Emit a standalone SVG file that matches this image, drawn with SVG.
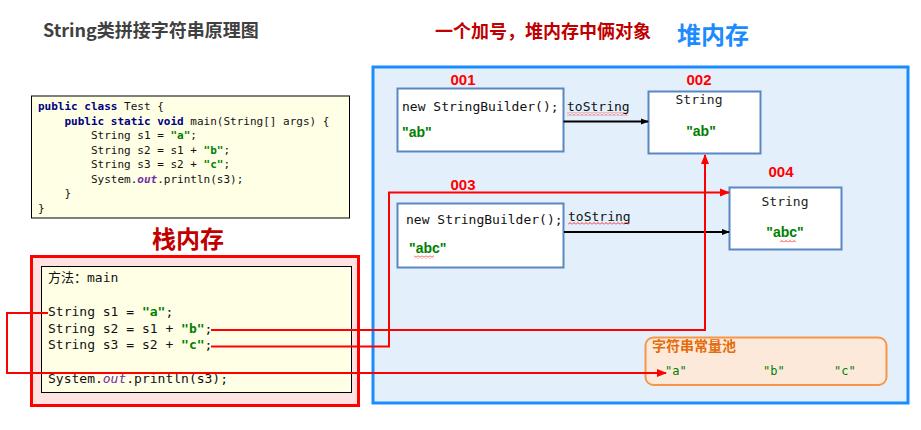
<svg xmlns="http://www.w3.org/2000/svg" width="921" height="430" viewBox="0 0 921 430">
<style>
.mono{font-family:"DejaVu Sans Mono","Noto Sans CJK SC",monospace;}
.code{font-size:11px;fill:#111;}
.stk{font-size:13px;fill:#111;}
.kw{fill:#000080;font-weight:bold;}
.str{fill:#008000;font-weight:bold;}
.out{fill:#7030A0;font-style:italic;font-weight:bold;}
.cjk{font-family:"Noto Sans CJK SC","Liberation Sans",sans-serif;font-weight:bold;}
.lbl{font-family:"Liberation Sans",Arial,sans-serif;font-weight:bold;font-size:15px;fill:#FF0000;text-anchor:middle;}
.obj{fill:#FFFFFF;stroke:#5A87C2;stroke-width:2;}
.val{font-family:"Liberation Sans",Arial,sans-serif;font-weight:bold;font-size:14px;fill:#008000;}
.red{fill:none;stroke:#FF0000;stroke-width:2;}
.blk{fill:none;stroke:#000;stroke-width:2;}
</style>
<defs>
<marker id="ab" markerWidth="8" markerHeight="8" refX="7" refY="4" orient="auto" markerUnits="userSpaceOnUse">
<path d="M0,1 L8,4 L0,7 Z" fill="#000"/>
</marker>
<marker id="ar" markerWidth="10" markerHeight="10" refX="9" refY="5" orient="auto" markerUnits="userSpaceOnUse">
<path d="M0,1 L10,5 L0,9 Z" fill="#FF0000"/>
</marker>
<pattern id="wavy" x="0" y="0" width="4" height="3" patternUnits="userSpaceOnUse">
<path d="M0,2.5 L2,0.5 L4,2.5" fill="none" stroke="#FF0000" stroke-width="0.8"/>
</pattern>
</defs>

<g id="titles">
<text x="43" y="37" class="cjk" font-size="18" fill="#404040">String类拼接字符串原理图</text>
<text x="435" y="38" class="cjk" font-size="18" fill="#C00000">一个加号，堆内存中俩对象</text>
<text x="677" y="44" class="cjk" font-size="24" fill="#1C8BFF">堆内存</text>
<text x="152" y="248" class="cjk" font-size="24" fill="#C00000">栈内存</text>
</g>

<g id="code">
<rect x="31.5" y="96" width="318" height="122" fill="#FFFFE6" stroke="#000" stroke-width="1"/>
<text class="mono code">
<tspan x="38" y="110"><tspan class="kw">public class</tspan> Test {</tspan>
<tspan x="64.5" y="124.5"><tspan class="kw">public static void</tspan> main(String[] args) {</tspan>
<tspan x="91" y="139">String s1 = <tspan class="str">"a"</tspan>;</tspan>
<tspan x="91" y="153.5">String s2 = s1 + <tspan class="str">"b"</tspan>;</tspan>
<tspan x="91" y="168">String s3 = s2 + <tspan class="str">"c"</tspan>;</tspan>
<tspan x="91" y="182.5">System.<tspan class="out">out</tspan>.println(s3);</tspan>
<tspan x="64.5" y="197">}</tspan>
<tspan x="38" y="211.5">}</tspan>
</text>
</g>

<g id="stack">
<rect x="31.5" y="256.5" width="327" height="149" fill="#FFE3E3" stroke="#FF0000" stroke-width="3"/>
<rect x="41.5" y="266.5" width="310" height="126" fill="#FFFFE6" stroke="#000" stroke-width="1"/>
<text class="mono stk">
<tspan x="48" y="282">方法：main</tspan>
<tspan x="48" y="316">String s1 = <tspan class="str">"a"</tspan>;</tspan>
<tspan x="48" y="332.5">String s2 = s1 + <tspan class="str">"b"</tspan>;</tspan>
<tspan x="48" y="349">String s3 = s2 + <tspan class="str">"c"</tspan>;</tspan>
<tspan x="48" y="383">System.<tspan class="out" style="font-weight:normal">out</tspan>.println(s3);</tspan>
</text>
</g>

<g id="heap">
<rect x="373" y="67" width="535" height="336" fill="#E3F0FC" stroke="#1A8CFF" stroke-width="3"/>
</g>

<g id="pool">
<rect x="645.5" y="337.5" width="241" height="47.5" rx="8" fill="#FCE9DA" stroke="#F79646" stroke-width="2"/>
<text x="652" y="351" class="cjk" font-size="14" fill="#E46C0A">字符串常量池</text>
<text class="mono" font-size="12" fill="#008000" y="375">
<tspan x="665">"a"</tspan><tspan x="763">"b"</tspan><tspan x="834">"c"</tspan>
</text>
</g>

<g id="obj001">
<text x="463" y="85" class="lbl">001</text>
<rect x="397.5" y="88.5" width="166" height="63" class="obj"/>
<text x="402" y="111" class="mono" font-size="13" fill="#111">new StringBuilder();</text>
<text x="402" y="137" class="val">"ab"</text>
</g>

<g id="obj002">
<text x="699" y="85" class="lbl">002</text>
<rect x="648.5" y="91.5" width="112" height="62" class="obj"/>
<text x="699" y="104" class="mono" font-size="13" fill="#222" text-anchor="middle">String</text>
<text x="701" y="136" class="val" text-anchor="middle">"ab"</text>
</g>

<g id="obj003">
<text x="463" y="190" class="lbl">003</text>
<rect x="397.5" y="203.5" width="166" height="64" class="obj"/>
<text x="406" y="224" class="mono" font-size="13" fill="#111">new StringBuilder();</text>
<text x="409" y="253" class="val">"abc"</text>
<rect x="414" y="255.5" width="20" height="3" fill="url(#wavy)"/>
</g>

<g id="obj004">
<text x="781" y="177" class="lbl">004</text>
<rect x="729.5" y="187.5" width="112" height="62" class="obj"/>
<text x="785" y="206" class="mono" font-size="13" fill="#222" text-anchor="middle">String</text>
<text x="785" y="237" class="val" text-anchor="middle">"abc"</text>
<rect x="780" y="239.5" width="16" height="3" fill="url(#wavy)"/>
</g>

<g id="connectors">
<text x="567" y="111" class="mono" font-size="13" fill="#111">toString</text>
<rect x="567" y="112.5" width="61" height="3" fill="url(#wavy)"/>
<line x1="563.5" y1="121.5" x2="648" y2="121.5" class="blk" marker-end="url(#ab)"/>
<text x="568" y="220.5" class="mono" font-size="13" fill="#111">toString</text>
<rect x="568" y="222" width="62" height="3" fill="url(#wavy)"/>
<line x1="564" y1="232" x2="729" y2="232" class="blk" marker-end="url(#ab)"/>
<path d="M211,330 H705 V155" class="red" marker-end="url(#ar)"/>
<path d="M211,346.5 H389 V192.5 H729" class="red" marker-end="url(#ar)"/>
<path d="M48,313 H7 V373 H666" class="red" marker-end="url(#ar)"/>
</g>
</svg>
